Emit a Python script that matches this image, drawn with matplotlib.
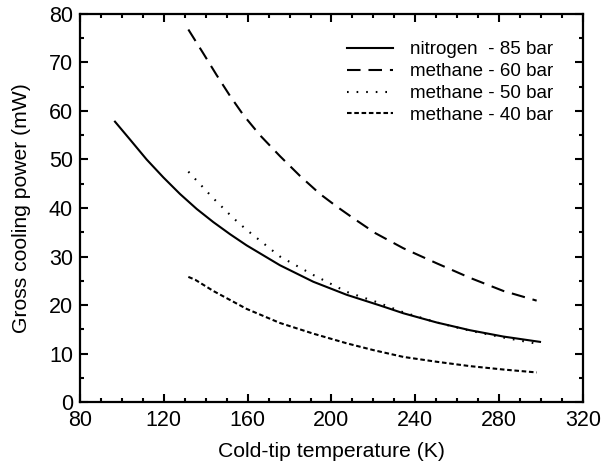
import matplotlib.pyplot as plt
from matplotlib.ticker import MultipleLocator

plt.rcParams['font.family'] = ['Liberation Sans', 'DejaVu Sans']

# values
t_n2_85 = [96.7, 103.9, 111.8, 119.8, 127.7, 135.7, 143.6, 151.6, 159.5, 175.4,
           191.3, 207.3, 223.2, 234.3, 250.2, 266.1, 282, 299.5]
p_n2_85 = [57.8, 54.1, 50.0, 46.3, 42.9, 39.8, 37.1, 34.6, 32.3, 28.2,
           24.8, 22.1, 19.9, 18.3, 16.4, 14.8, 13.5, 12.4]

t_ch4_60 = [131.7, 138.8, 145.2, 151.6, 157.9, 165.9, 175.4, 185, 194.5, 202.5,
            210.4, 221, 234.3, 250.2, 266.1, 282, 297.9]
p_ch4_60 = [76.8, 71.9, 67.4, 63.1, 59.2, 55.0, 50.7, 46.6, 42.9, 40.3,
            37.9, 34.8, 31.7, 28.6, 25.6, 22.9, 20.9]

t_ch4_50 = [131.7, 143.6, 153.2, 159.5, 175.4, 191.3, 207.3, 221.6, 234.3, 250.2,
            266.1, 282, 297.1]
p_ch4_50 = [47.5, 42.0, 37.9, 35.5, 30.0, 26.2, 22.7, 20.6, 18.5, 16.4,
            14.7, 13.3, 12.1]

t_ch4_40 = [131.7, 135, 143.6, 159.5, 175.4, 191.3, 207.3, 220, 234.3, 250.2,
            266.1, 282, 297.9]
p_ch4_40 = [25.8, 25.2, 22.9, 19.2, 16.3, 14.1, 12.1, 10.7, 9.3, 8.3,
            7.4, 6.7, 6.1]

labels = ['nitrogen  - 85 bar', 'methane - 60 bar', 'methane - 50 bar', 'methane - 40 bar']

fig = plt.figure(figsize=(6.01, 4.63), dpi=100)
ax = fig.add_axes([0.1331, 0.1317, 0.8369, 0.8381])

ax.plot(t_n2_85, p_n2_85, color='black', lw=1.5, ls='-', label=labels[0])
ax.plot(t_ch4_60, p_ch4_60, color='black', lw=1.5, ls=(0, (6.5, 3.8)), label=labels[1])
ax.plot(t_ch4_50, p_ch4_50, color='black', lw=1.5, ls=(0, (0.8, 3.8)), label=labels[2])
ax.plot(t_ch4_40, p_ch4_40, color='black', lw=1.5, ls=(0, (2.2, 1.3)), label=labels[3])

ax.set_xlim(80, 320)
ax.set_ylim(0, 80)
ax.xaxis.set_major_locator(MultipleLocator(40))
ax.xaxis.set_minor_locator(MultipleLocator(10))
ax.yaxis.set_major_locator(MultipleLocator(10))
ax.yaxis.set_minor_locator(MultipleLocator(5))
ax.tick_params(which='both', direction='in', top=True, right=True, width=1.5,
               labelsize=15.5, colors='black')
ax.tick_params(which='major', length=6)
ax.tick_params(which='minor', length=3)
ax.tick_params(axis='x', pad=6)
ax.tick_params(axis='y', pad=5)
for s in ax.spines.values():
    s.set_linewidth(1.6)

ax.set_xlabel('Cold-tip temperature (K)', fontsize=15.2, labelpad=8)
ax.set_ylabel('Gross cooling power (mW)', fontsize=15.2, labelpad=13)

ax.legend(loc='upper right', bbox_to_anchor=(0.975, 0.973), frameon=False,
          fontsize=13.5, handlelength=2.45, handletextpad=0.9, labelspacing=0.25)

plt.savefig('out.png', dpi=100)
